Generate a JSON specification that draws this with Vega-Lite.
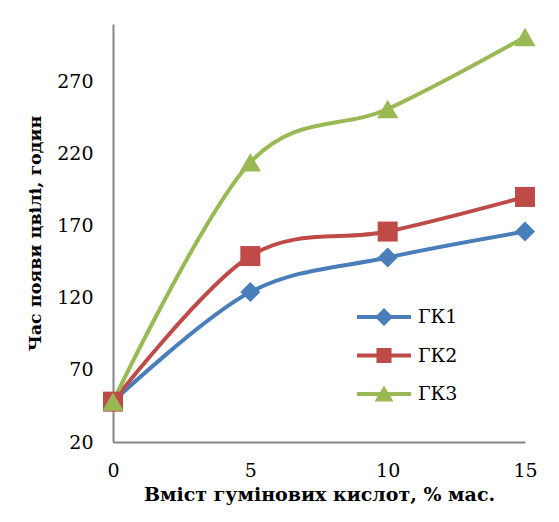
{
  "$schema": "https://vega.github.io/schema/vega-lite/v6.json",
  "width": 412,
  "height": 418,
  "autosize": {"type": "none"},
  "padding": {"left": 113, "top": 24, "right": 34, "bottom": 80},
  "background": "white",
  "config": {
    "view": {"stroke": null},
    "font": "DejaVu Serif",
    "axis": {
      "domainColor": "#868686",
      "domainWidth": 2,
      "grid": false,
      "ticks": false,
      "tickSize": 0,
      "labelFont": "DejaVu Serif",
      "labelFontSize": 19,
      "labelColor": "black",
      "titleFont": "DejaVu Serif",
      "titleFontWeight": "bold",
      "titleColor": "black"
    },
    "legend": {
      "labelFont": "DejaVu Serif"
    }
  },
  "data": {
    "values": [
      {"x": 0, "y": 48, "s": "ГК1"},
      {"x": 5, "y": 124, "s": "ГК1"},
      {"x": 10, "y": 148, "s": "ГК1"},
      {"x": 15, "y": 166, "s": "ГК1"},
      {"x": 0, "y": 48, "s": "ГК2"},
      {"x": 5, "y": 149, "s": "ГК2"},
      {"x": 10, "y": 166, "s": "ГК2"},
      {"x": 15, "y": 190, "s": "ГК2"},
      {"x": 0, "y": 48, "s": "ГК3"},
      {"x": 5, "y": 214, "s": "ГК3"},
      {"x": 10, "y": 251, "s": "ГК3"},
      {"x": 15, "y": 301, "s": "ГК3"}
    ]
  },
  "encoding": {
    "x": {
      "field": "x", "type": "quantitative",
      "scale": {"domain": [0, 15], "nice": false, "zero": false},
      "axis": {"values": [0, 5, 10, 15], "labelPadding": 19, "titlePadding": 5, "titleFontSize": 19, "title": "Вміст гумінових кислот, % мас.", "labelFlush": false}
    },
    "y": {
      "field": "y", "type": "quantitative",
      "scale": {"domain": [20, 310], "nice": false, "zero": false},
      "axis": {"values": [20, 70, 120, 170, 220, 270], "labelPadding": 20, "titlePadding": 12, "titleFontSize": 17.5, "title": "Час появи цвілі, годин"}
    },
    "color": {
      "field": "s", "type": "nominal",
      "scale": {"domain": ["ГК1", "ГК2", "ГК3"], "range": ["#4A7EBB", "#BE4B48", "#98B954"]},
      "legend": {
        "title": null,
        "orient": "none",
        "legendX": 244,
        "legendY": 283,
        "labelFontSize": 19,
        "labelColor": "black",
        "symbolSize": 400,
        "symbolOffset": 17,
        "labelOffset": 24,
        "rowPadding": 18.5,
        "encode": {
          "symbols": {
            "update": {
              "shape": {"signal": "datum.value == 'ГК1' ? 'M-2.7,-0.2H2.7V0.2H-2.7Z M0,-0.9L0.9,0L0,0.9L-0.9,0Z' : datum.value == 'ГК2' ? 'M-2.7,-0.2H2.7V0.2H-2.7Z M-0.75,-0.75H0.75V0.75H-0.75Z' : 'M-2.7,-0.2H2.7V0.2H-2.7Z M0,-0.85L0.95,0.75H-0.95Z'"},
              "fill": {"scale": "color", "field": "value"},
              "stroke": {"value": "transparent"},
              "strokeWidth": {"value": 0},
              "opacity": {"value": 1},
              "fillOpacity": {"value": 1}
            }
          }
        }
      }
    }
  },
  "layer": [
    {
      "mark": {"type": "line", "strokeWidth": 4, "interpolate": "cardinal"}
    },
    {
      "transform": [{"filter": "datum.s == 'ГК1'"}],
      "mark": {"type": "point", "filled": true, "opacity": 1, "size": 400, "shape": "diamond"}
    },
    {
      "transform": [{"filter": "datum.s == 'ГК2'"}],
      "mark": {"type": "point", "filled": true, "opacity": 1, "size": 400, "shape": "square"}
    },
    {
      "transform": [{"filter": "datum.s == 'ГК3'"}],
      "mark": {"type": "point", "filled": true, "opacity": 1, "size": 450, "shape": "triangle-up"}
    }
  ]
}
